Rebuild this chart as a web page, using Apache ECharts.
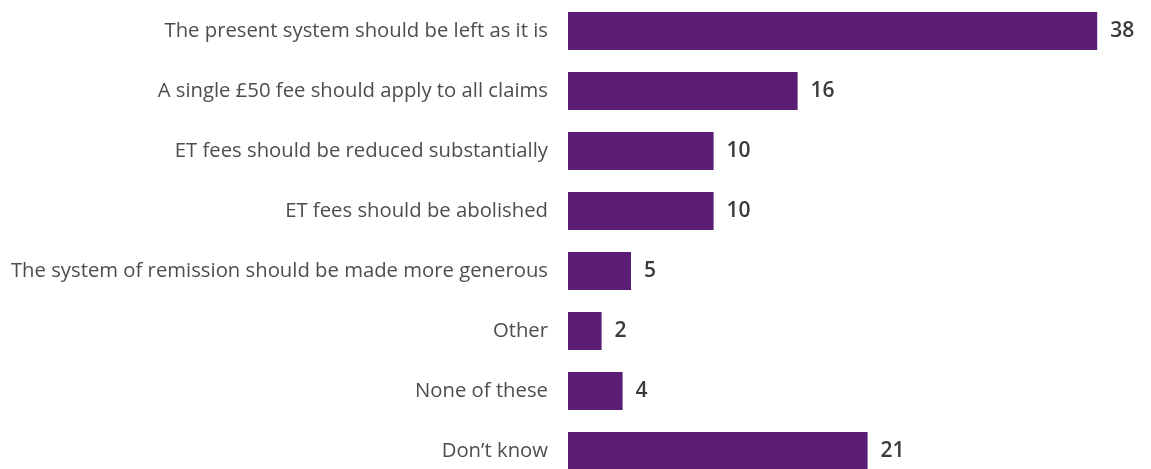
<!DOCTYPE html>
<html>
<head>
<meta charset="utf-8">
<script src="https://cdn.jsdelivr.net/npm/echarts@6/dist/echarts.min.js"></script>
<style>
  html, body { margin: 0; padding: 0; background: #fff; }
  #chart { width: 1151px; height: 469px; }
</style>
</head>
<body>
<div id="chart"></div>
<script>
// categories, top to bottom
const categories = [
  'The present system should be left as it is',
  'A single £50 fee should apply to all claims',
  'ET fees should be reduced substantially',
  'ET fees should be abolished',
  'The system of remission should be made more generous',
  'Other',
  'None of these',
  'Don\u2019t know'
];
// bar lengths (labels shown rounded)
const values = [37.8, 16.4, 10.4, 10.4, 4.5, 2.4, 3.9, 21.4];

let chart = echarts.init(document.getElementById('chart'));
chart.setOption({
  animation: false,
  grid: {
    left: 568,
    right: 23,
    top: 1,
    height: 480,
    containLabel: false,
    outerBoundsMode: 'none'
  },
  xAxis: {
    type: 'value',
    min: 0,
    max: 40,
    show: false
  },
  yAxis: {
    type: 'category',
    inverse: true,
    data: categories,
    axisLine: { show: false },
    axisTick: { show: false },
    axisLabel: {
      margin: 20,
      color: '#4d4d4d',
      fontSize: 20.3,
      fontFamily: 'Open Sans'
    }
  },
  series: [
    {
      type: 'bar',
      data: values,
      barWidth: 38,
      itemStyle: { color: '#5c1e74' },
      label: {
        show: true,
        position: 'right',
        distance: 13,
        color: '#3a3a3a',
        fontSize: 21,
        fontWeight: 600,
        fontFamily: 'Open Sans',
        formatter: p => Math.round(p.value)
      }
    }
  ]
});
</script>
</body>
</html>
